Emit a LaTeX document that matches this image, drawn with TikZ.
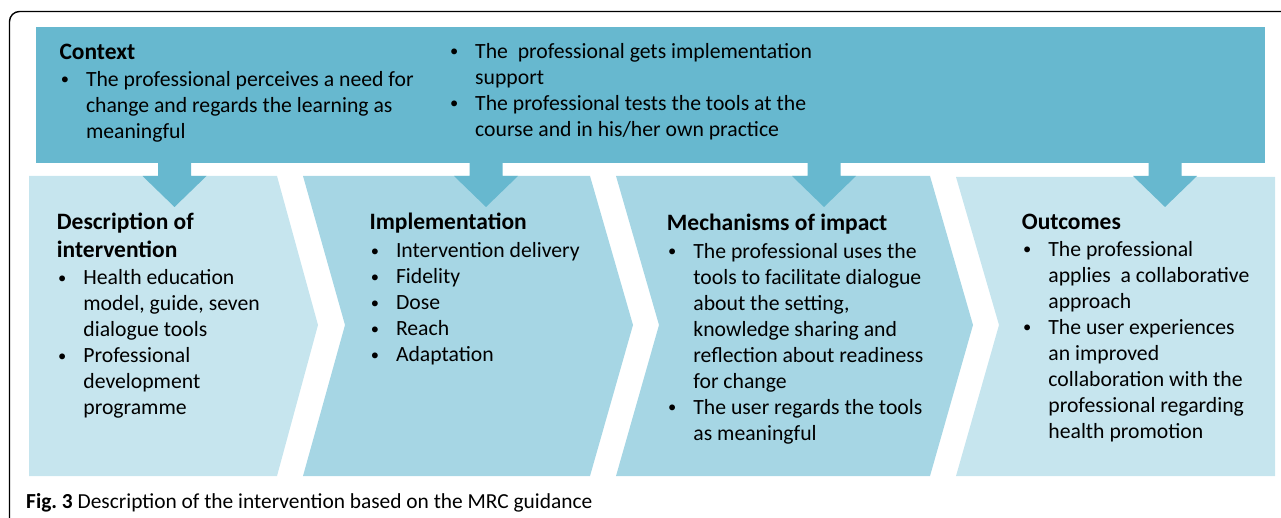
\documentclass[tikz,border=0pt]{standalone}
\usepackage{fontspec}
\setmainfont{Carlito}
\definecolor{ctxblue}{HTML}{67B8CF}
\definecolor{lightblue}{HTML}{C6E5EE}
\definecolor{midblue}{HTML}{A6D6E4}
\newcommand\bul{\makebox[26.5pt][l]{\hspace{1.3pt}\raisebox{1.9pt}{\fontsize{16.5}{16.5}\selectfont\textbullet}}}
\newcommand\ind{\hspace*{26.5pt}}
\newcommand\ttl[1]{{\fontsize{23.5}{27}\selectfont\bfseries #1}}
\tikzset{
  txt/.style={anchor=base west, inner sep=0pt, font=\fontsize{21.7}{26}\selectfont},
  captxt/.style={anchor=base west, inner sep=0pt, font=\fontsize{21.4}{24}\selectfont},
  blockarrow/.style={fill=ctxblue, draw=none}
}
\newcommand\blk[1]{\parbox[t]{420pt}{#1}}
\begin{document}
\begin{tikzpicture}[x=1pt,y=-1pt]
\useasboundingbox (0,0) rectangle (1281,518);
% frame
\draw[line width=1.4pt, rounded corners=10pt] (9.5,530) -- (9.5,11.5) -- (1295,11.5);
% context box
\fill[ctxblue] (36,27) rectangle (1265,163);
% chevrons
\fill[lightblue] (29,176) -- (277,176) -- (318,325) -- (277,476) -- (29,476) -- cycle;
\fill[midblue] (303,176) -- (590,176) -- (633,325) -- (590,476) -- (303,476) -- (345,325) -- cycle;
\fill[midblue] (616,176) -- (930,176) -- (973,325) -- (930,476) -- (616,476) -- (659,325) -- cycle;
\fill[lightblue] (956,177) -- (1275,177) -- (1275,476) -- (956,476) -- (999,325) -- cycle;
% block arrows
\foreach \cx in {174.5,486,824,1165}{
  \fill[blockarrow] (\cx-16.5,162) -- (\cx+16.5,162) -- (\cx+16.5,176) -- (\cx+32,176)
     -- (\cx,207) -- (\cx-32,176) -- (\cx-16.5,176) -- cycle;
}
% texts
\node[txt] (ctx) at (59.3,59.3) {\blk{\ttl{Context}\\[1.4pt]
  \bul The professional perceives a need for\\
  \ind change and regards the learning as\\
  \ind meaningful}};
\node[txt] (ctxb) at (448.5,58.3) {\blk{\bul The~ professional gets implementation\\
  \ind support\\
  \bul The professional tests the tools at the\\
  \ind course and in his/her own practice}};
\node[txt] (desc) at (56.7,230) {\blk{\ttl{Description of}\\[1.3pt]
  \ttl{intervention}\\[1.7pt]
  \bul Health education\\
  \ind model, guide, seven\\
  \ind dialogue tools\\
  \bul Professional\\
  \ind development\\
  \ind programme}};
\node[txt] (impl) at (369.3,230) {\blk{\ttl{Implementation}\\[2pt]
  \bul Intervention delivery\\
  \bul Fidelity\\
  \bul Dose\\
  \bul Reach\\
  \bul Adaptation}};
\node[txt] (mech) at (666.7,231) {\blk{\ttl{Mechanisms of impact}\\[1.3pt]
  \bul The professional uses the\\
  \ind tools to facilitate dialogue\\
  \ind about the setting,\\
  \ind knowledge sharing and\\
  \ind reflection about readiness\\
  \ind for change\\
  \bul The user regards the tools\\
  \ind as meaningful}};
\node[txt] (outc) at (1021.7,230) {\blk{\ttl{Outcomes}\\[0.7pt]
  \bul The professional\\
  \ind applies~ a collaborative\\
  \ind approach\\
  \bul The user experiences\\
  \ind an improved\\
  \ind collaboration with the\\
  \ind professional regarding\\
  \ind health promotion}};
\node[captxt] (caption) at (26,508) {\textbf{Fig.\ 3} Description of the intervention based on the MRC guidance};
\end{tikzpicture}
\end{document}
